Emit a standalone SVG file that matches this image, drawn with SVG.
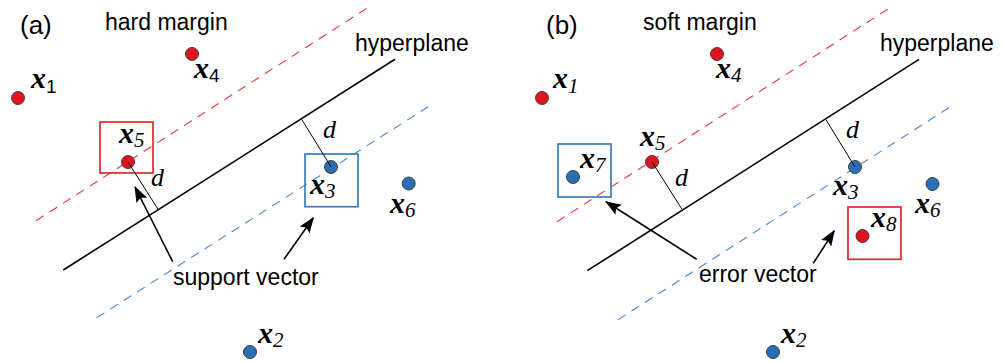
<svg xmlns="http://www.w3.org/2000/svg" width="1003" height="363" viewBox="0 0 1003 363">
<defs>
<marker id="ah" markerUnits="userSpaceOnUse" markerWidth="16" markerHeight="12" viewBox="0 0 16 12" refX="15" refY="6" orient="auto">
<path d="M0,0 L16,6 L0,12 L3,6 z" fill="#000"/>
</marker>
<style>
.t{font-family:"Liberation Sans",Arial,sans-serif;font-size:23px;fill:#000}
.p{font-family:"Liberation Sans",Arial,sans-serif;font-size:26px;fill:#000}
.v{font-family:"Liberation Serif","Times New Roman",serif;font-size:30px;font-weight:bold;font-style:italic}
.s{font-family:"Liberation Serif","Times New Roman",serif;font-size:21px;font-style:italic;font-weight:normal}
.ss{font-family:"Liberation Sans",Arial,sans-serif;font-size:19px;font-style:normal;font-weight:normal}
.d{font-family:"Liberation Serif","Times New Roman",serif;font-size:26px;font-style:italic}
.r{fill:#e0141c;stroke:#333;stroke-width:0.9}
.b{fill:#2a6fb5;stroke:#333;stroke-width:0.9}
.rb{fill:none;stroke:#e3262b;stroke-width:1.7}
.bb{fill:none;stroke:#3b7bc0;stroke-width:1.7}
.hp{stroke:#000;stroke-width:1.6;fill:none}
.rd{stroke:#e8353a;stroke-width:1.1;stroke-dasharray:9 7;fill:none}
.bd{stroke:#4a88cc;stroke-width:1.1;stroke-dasharray:9 7;fill:none}
.dl{stroke:#000;stroke-width:1;fill:none}
.ar{stroke:#000;stroke-width:1.6;fill:none;marker-end:url(#ah)}
</style>
</defs>

<!-- Panel (a) -->
<g id="panel-a-labels">
<text class="p" x="20" y="34">(a)</text>
<text class="t" x="105" y="30">hard margin</text>
<text class="t" x="355" y="51">hyperplane</text>
<text class="t" x="173" y="285">support vector</text>
</g>
<g id="a-lines">
<line class="rd" x1="36" y1="220.7" x2="369.3" y2="6.7"/>
<line class="hp" x1="63.3" y1="270" x2="395" y2="59.3"/>
<line class="bd" x1="96.7" y1="317.7" x2="428.3" y2="106.7"/>
</g>
<g id="a-x1"><circle class="r" cx="18" cy="98" r="6.5"/><text class="v" x="31" y="88">x<tspan class="ss" dy="5">1</tspan></text></g>
<g id="a-x4"><circle class="r" cx="192" cy="54" r="6.5"/><text class="v" x="194" y="78">x<tspan class="ss" dy="4">4</tspan></text></g>
<g id="a-x5"><rect class="rb" x="100" y="122" width="53" height="51"/><circle class="r" cx="128" cy="162" r="6.5"/><text class="v" x="119" y="143">x<tspan class="s" dy="4">5</tspan></text></g>
<g id="a-x3"><rect class="bb" x="305" y="154" width="53" height="52.7"/><circle class="b" cx="331" cy="167" r="6.5"/><text class="v" x="310" y="194">x<tspan class="s" dy="4">3</tspan></text></g>
<g id="a-x6"><circle class="b" cx="408.7" cy="183.5" r="6.5"/><text class="v" x="390" y="213">x<tspan class="s" dy="4">6</tspan></text></g>
<g id="a-x2"><circle class="b" cx="250" cy="352" r="6.5"/><text class="v" x="258" y="343">x<tspan class="s" dy="4">2</tspan></text></g>
<g id="a-d"><text class="d" x="323" y="138">d</text><text class="d" x="151" y="186">d</text></g>

<!-- Panel (b) -->
<g id="panel-b-labels">
<text class="p" x="546" y="34">(b)</text>
<text class="t" x="643" y="30">soft margin</text>
<text class="t" x="880" y="51">hyperplane</text>
<text class="t" x="699" y="282">error vector</text>
</g>
<g id="b-lines">
<line class="rd" x1="557" y1="221.7" x2="890" y2="7.7"/>
<line class="hp" x1="587.3" y1="270.7" x2="919" y2="59.3"/>
<line class="bd" x1="618" y1="319.7" x2="950" y2="107"/>
</g>
<g id="b-x1"><circle class="r" cx="542" cy="98" r="6.5"/><text class="v" x="553" y="88">x<tspan class="s" dy="5">1</tspan></text></g>
<g id="b-x4"><circle class="r" cx="717" cy="54" r="6.5"/><text class="v" x="716" y="78">x<tspan class="s" dy="4">4</tspan></text></g>
<g id="b-x5"><circle class="r" cx="652" cy="162" r="6.5"/><text class="v" x="640" y="146">x<tspan class="s" dy="4">5</tspan></text></g>
<g id="b-x7"><rect class="bb" x="558" y="144" width="53" height="53"/><circle class="b" cx="573" cy="177" r="6.5"/><text class="v" x="580" y="168">x<tspan class="s" dy="4">7</tspan></text></g>
<g id="b-x3"><circle class="b" cx="855" cy="167" r="6.5"/><text class="v" x="833" y="195">x<tspan class="s" dy="4">3</tspan></text></g>
<g id="b-x6"><circle class="b" cx="932.5" cy="184" r="6.5"/><text class="v" x="915" y="213">x<tspan class="s" dy="4">6</tspan></text></g>
<g id="b-x8"><rect class="rb" x="848" y="207" width="53" height="52.3"/><circle class="r" cx="862.5" cy="236" r="6.5"/><text class="v" x="871" y="227">x<tspan class="s" dy="4">8</tspan></text></g>
<g id="b-x2"><circle class="b" cx="773" cy="352" r="6.5"/><text class="v" x="781" y="343">x<tspan class="s" dy="4">2</tspan></text></g>
<g id="b-d"><text class="d" x="846" y="138">d</text><text class="d" x="675" y="186">d</text></g>

<g id="connectors">
<line class="dl" x1="301.7" y1="119.3" x2="331" y2="167"/>
<line class="dl" x1="128" y1="162" x2="158.3" y2="209.7"/>
<line class="dl" x1="825.7" y1="119.3" x2="855" y2="167"/>
<line class="dl" x1="652" y1="162" x2="682.3" y2="209.7"/>
<line class="ar" x1="172.7" y1="261.7" x2="135" y2="187"/>
<line class="ar" x1="284" y1="259.3" x2="313.3" y2="217.7"/>
<line class="ar" x1="696.7" y1="259.3" x2="606" y2="201.7"/>
<line class="ar" x1="813.3" y1="263.3" x2="834.3" y2="230.7"/>
</g>
</svg>
